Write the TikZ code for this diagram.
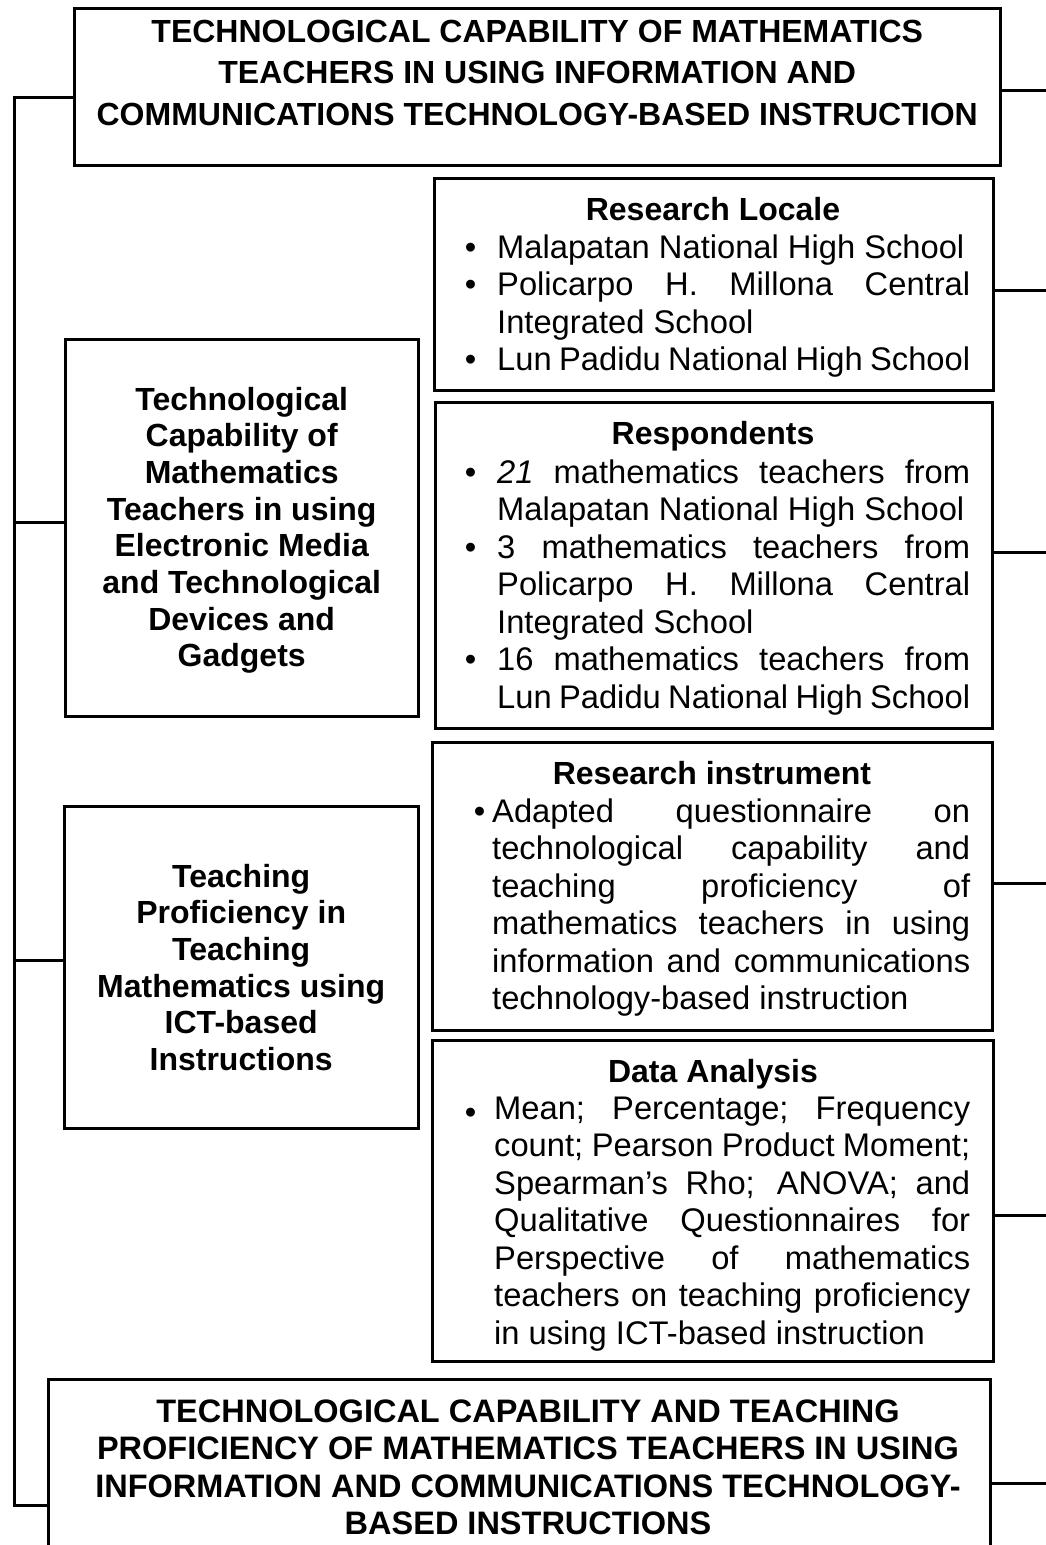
\documentclass[tikz,border=0pt]{standalone}
\usepackage{fontspec}
\setmainfont{Liberation Sans}
\usetikzlibrary{fit}

% one fully justified line of a bullet paragraph
\newcommand\jline[1]{\makebox[\linewidth][s]{#1}}
% bullet hanging to the left of the text column
\newcommand\hbul[1]{\leavevmode\llap{\textbullet\hspace{#1}}}
\newcommand\lowbul[1]{\leavevmode\llap{\raisebox{-4.5pt}{\textbullet}\hspace{#1}}}
\newcommand\titlefont{\fontsize{32}{41.5}\selectfont\bfseries}
\newcommand\sidefont{\fontsize{32}{36.7}\selectfont\bfseries}
\newcommand\closefont{\fontsize{32.5}{37.5}\selectfont\bfseries}
\newcommand\bodyfont{\fontsize{32.7}{37.5}\selectfont}
\newcommand\headfont{\fontsize{32}{37.5}\selectfont\bfseries}

\begin{document}
\begin{tikzpicture}[x=1pt,y=-1pt,
  frame/.style={draw, line width=3pt, inner sep=0pt, rectangle},
  link/.style={line width=3pt},
  txt/.style={inner sep=0pt}]
\useasboundingbox (0,0) rectangle (1046,1545);

% ---------- frames ----------
\node[frame, fit={(74,8)(1000,165)}] (top) {};
\node[frame, fit={(434,178)(993,390)}] (loc) {};
\node[frame, fit={(435,402)(992,728)}] (resp) {};
\node[frame, fit={(432,742)(992,1030)}] (instr) {};
\node[frame, fit={(432,1040)(993,1361)}] (data) {};
\node[frame, fit={(65,339)(418,716)}] (cap) {};
\node[frame, fit={(64,806)(418,1128)}] (prof) {};
\node[frame, fit={(48,1379)(990,1600)}] (bottom) {};

% ---------- titles ----------
\node[txt, anchor=base west] (topT) at (74,42) {\parbox[t]{926pt}{\centering\titlefont
  TECHNOLOGICAL CAPABILITY OF MATHEMATICS\\
  TEACHERS IN USING INFORMATION AND\\
  COMMUNICATIONS TECHNOLOGY-BASED INSTRUCTION}};

\node[txt, anchor=base] (bottomT) at (528,1422) {\parbox[t]{942pt}{\centering\closefont
  TECHNOLOGICAL CAPABILITY AND TEACHING\\
  PROFICIENCY OF MATHEMATICS TEACHERS IN USING\\
  INFORMATION AND COMMUNICATIONS TECHNOLOGY-\\
  BASED INSTRUCTIONS}};

\node[txt, anchor=base west] (capT) at (65,410) {\parbox[t]{353pt}{\centering\sidefont
  Technological\\ Capability of\\ Mathematics\\ Teachers in using\\
  Electronic Media\\ and Technological\\ Devices and\\ Gadgets}};

\node[txt, anchor=base west] (profT) at (64,887) {\parbox[t]{354pt}{\centering\sidefont
  Teaching\\ Proficiency in\\ Teaching\\ Mathematics using\\
  ICT-based\\ Instructions}};

% ---------- research locale ----------
\node[txt, anchor=base] (locH) at (713,220) {\headfont Research Locale};
\node[txt, anchor=base west] (locB) at (497,258) {\parbox[t]{473pt}{\bodyfont
  \hbul{21pt}Malapatan National High School\\
  \jline{\hbul{21pt}Policarpo H. Millona Central}\\
  Integrated School\\
  \hbul{21pt}Lun Padidu National High School}};

% ---------- respondents ----------
\node[txt, anchor=base] (respH) at (713,444) {\headfont Respondents};
\node[txt, anchor=base west] (respB) at (497,483) {\parbox[t]{473pt}{\bodyfont
  \jline{\hbul{21pt}\textit{21} mathematics teachers from}\\
  Malapatan National High School\\
  \jline{\hbul{21pt}3 mathematics teachers from}\\
  \jline{Policarpo H. Millona Central}\\
  Integrated School\\
  \jline{\hbul{21pt}16 mathematics teachers from}\\
  Lun Padidu National High School}};

% ---------- research instrument ----------
\node[txt, anchor=base] (instrH) at (712,784) {\headfont Research instrument};
\node[txt, anchor=base west] (instrB) at (492,822) {\parbox[t]{478pt}{\bodyfont
  \jline{\hbul{7pt}Adapted questionnaire on}\\
  \jline{technological capability and}\\
  \jline{teaching proficiency of}\\
  \jline{mathematics teachers in using}\\
  \jline{information and communications}\\
  technology-based instruction}};

% ---------- data analysis ----------
\node[txt, anchor=base] (dataH) at (713,1082) {\headfont Data Analysis};
\node[txt, anchor=base west] (dataB) at (494,1119) {\parbox[t]{476pt}{\bodyfont
  \jline{\lowbul{18pt}Mean; Percentage; Frequency}\\
  \jline{count; Pearson Product Moment;}\\
  \jline{Spearman’s Rho; ANOVA; and}\\
  \jline{Qualitative Questionnaires for}\\
  \jline{Perspective of mathematics}\\
  \jline{teachers on teaching proficiency}\\
  in using ICT-based instruction}};

% ---------- connectors ----------
\coordinate (s0) at (14,97);
\coordinate (s1) at (14,522);
\coordinate (s2) at (14,960);
\coordinate (s3) at (14,1505);
\draw[link] (s0 -| top.west) -- (s0) -- (s3) -- (s3 -| bottom.west);
\draw[link] (s1) -- (s1 -| cap.west);
\draw[link] (s2) -- (s2 -| prof.west);

\coordinate (e0) at (1050,90);
\coordinate (e1) at (1050,290);
\coordinate (e2) at (1050,552);
\coordinate (e3) at (1050,883);
\coordinate (e4) at (1050,1215);
\coordinate (e5) at (1050,1483);
\draw[link] (e0 -| top.east) -- (e0);
\draw[link] (e1 -| loc.east) -- (e1);
\draw[link] (e2 -| resp.east) -- (e2);
\draw[link] (e3 -| instr.east) -- (e3);
\draw[link] (e4 -| data.east) -- (e4);
\draw[link] (e5 -| bottom.east) -- (e5);
\end{tikzpicture}
\end{document}
